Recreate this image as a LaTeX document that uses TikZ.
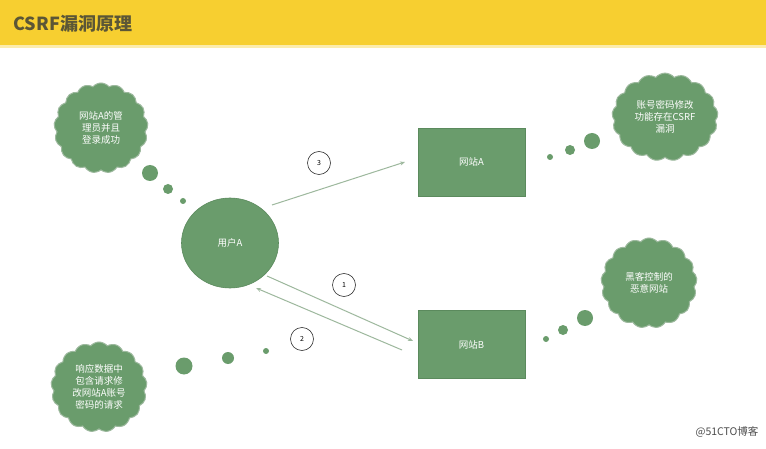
\documentclass[tikz,border=0pt]{standalone}
\usepackage{fontspec}
\setmainfont{Noto Sans CJK SC}
\newfontfamily\cjk{Noto Sans CJK SC}
\usetikzlibrary{shapes.symbols,shapes.geometric,arrows.meta}
\definecolor{bar}{HTML}{F7CF30}
\definecolor{titlec}{HTML}{5B5636}
\definecolor{gfill}{HTML}{6A9C6C}
\definecolor{gdraw}{HTML}{5B8A5D}
\definecolor{arr}{HTML}{9DB89D}
\tikzset{
  thought/.style={cloud, cloud puffs=17, cloud puff arc=100, aspect=1.05, fill=gfill, draw=gdraw!60!white, line width=1pt,
    text=white, font=\cjk\fontsize{9.5}{12}\selectfont, align=center, inner sep=0pt},
  site/.style={rectangle, fill=gfill, draw=gdraw, line width=0.6pt, minimum width=107pt, minimum height=68pt,
    text=white, font=\cjk\fontsize{9.5}{11}\selectfont},
  user/.style={ellipse, fill=gfill, draw=gdraw, line width=0.6pt, minimum width=97pt, minimum height=90pt,
    text=white, font=\cjk\fontsize{9.5}{11}\selectfont},
  bub/.style={circle, fill=gfill, inner sep=0pt},
  flow/.style={draw=arr, line width=1pt, -{Stealth[length=5pt,width=4pt]}},
  numc/.style={circle, draw=black!80, line width=0.6pt, minimum size=23pt, inner sep=0pt, font=\fontsize{7}{8}\selectfont}
}
\begin{document}
\begin{tikzpicture}[x=1pt,y=-1pt]
\useasboundingbox (0,0) rectangle (766,449);
\fill[white] (0,0) rectangle (766,449);
\fill[bar] (0,0) rectangle (766,45);
\fill[bar!40!white] (0,45) rectangle (766,48);
\node[anchor=west, text=titlec, font=\cjk\bfseries\fontsize{18}{22}\selectfont] (title) at (10,24) {CSRF漏洞原理};

% main nodes
\node[user] (u) at (230,243) {用户A};
\node[site] (a) at (471.5,162) {网站A};
\node[site] (b) at (471.5,344.5) {网站B};

% clouds
\node[thought, minimum width=94pt, minimum height=90pt] (c1) at (101,128) {网站A的管\\理员并且\\登录成功};
\node[thought, minimum width=106pt, minimum height=86pt] (c2) at (665,117) {账号密码修改\\功能存在CSRF\\漏洞};
\node[thought, minimum width=96pt, minimum height=90pt] (c3) at (649,283) {黑客控制的\\恶意网站};
\node[thought, minimum width=96pt, minimum height=90pt] (c4) at (99,387) {响应数据中\\包含请求修\\改网站A账号\\密码的请求};

% bubbles
\node[bub, minimum size=16pt] (d11) at (150,173) {};
\node[bub, minimum size=10pt] (d12) at (168,189) {};
\node[bub, minimum size=6pt] (d13) at (183,201) {};
\node[bub, minimum size=16pt] (d21) at (592,141) {};
\node[bub, minimum size=10pt] (d22) at (570,150) {};
\node[bub, minimum size=6pt] (d23) at (550,157) {};
\node[bub, minimum size=16pt] (d31) at (585,318) {};
\node[bub, minimum size=10pt] (d32) at (563,330) {};
\node[bub, minimum size=6pt] (d33) at (546,339) {};
\node[bub, minimum size=17pt] (d41) at (184,366) {};
\node[bub, minimum size=12pt] (d42) at (228,358) {};
\node[bub, minimum size=6pt] (d43) at (266,351) {};

% connectors
\coordinate (a3s) at (272,205);
\coordinate (a3e) at (405,162);
\coordinate (a1s) at (267,276);
\coordinate (a1e) at (413,341);
\coordinate (a2s) at (402,350);
\coordinate (a2e) at (256,288);
\draw[flow] (a3s) -- (a3e);
\draw[flow] (a1s) -- (a1e);
\draw[flow] (a2s) -- (a2e);

\node[numc] (n3) at (319,163) {3};
\node[numc] (n1) at (344,285) {1};
\node[numc] (n2) at (302,339) {2};

% watermark
\node[anchor=east, text=black!70, font=\cjk\fontsize{10.5}{12}\selectfont] (wm) at (762,432) {@51CTO博客};
\end{tikzpicture}
\end{document}
